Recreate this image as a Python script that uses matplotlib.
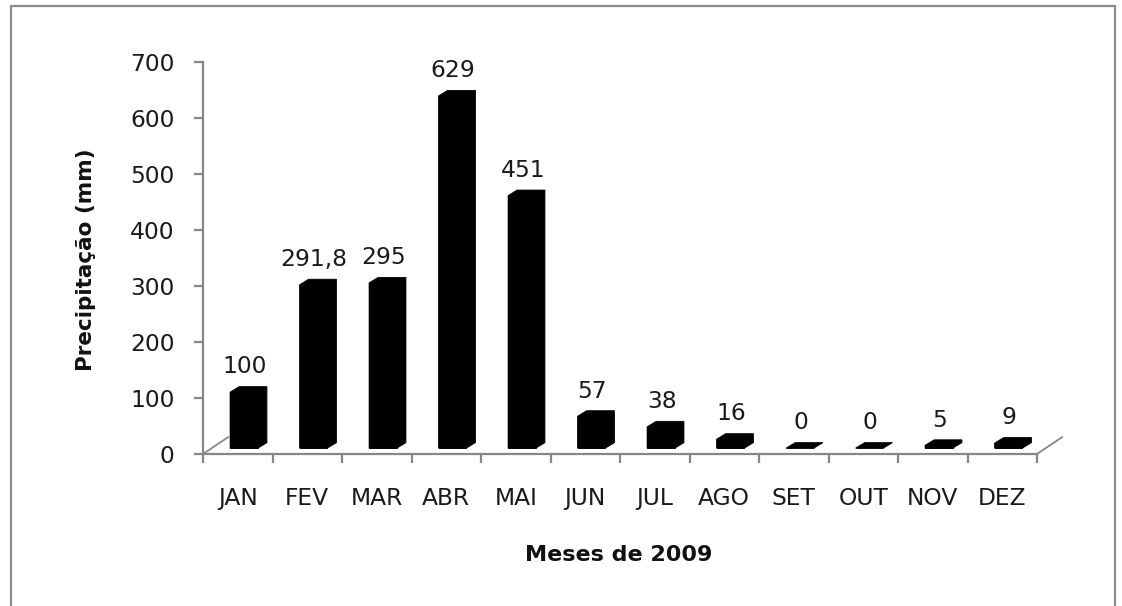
import matplotlib
matplotlib.use("Agg")
import matplotlib.pyplot as plt
from matplotlib.patches import Rectangle

months = ["JAN", "FEV", "MAR", "ABR", "MAI", "JUN", "JUL", "AGO", "SET", "OUT", "NOV", "DEZ"]
precip = [100, 291.8, 295, 629, 451, 57, 38, 16, 0, 0, 5, 9]
labels = ["100", "291,8", "295", "629", "451", "57", "38", "16", "0", "0", "5", "9"]
yticks = [0, 100, 200, 300, 400, 500, 600, 700]

plt.rcParams['font.family'] = ['DejaVu Sans']
GRAY = "#878787"
TXT = "#1a1a1a"
FS = 16.8

W, H = 1122, 606
fig = plt.figure(figsize=(W / 100, H / 100), dpi=100)
ax = fig.add_axes([203 / W, 1 - 454 / H, (1037 - 203) / W, (454 - 62) / H])
ax.set_xlim(-0.5, len(months) - 0.5)
ax.set_ylim(0, 700)

# pseudo-3D column geometry (in data units)
x_off, width = -0.11, 0.40
base = 10.5
ddx, ddy = 0.13, 9.8

for i, v in enumerate(precip):
    x0 = i + x_off
    x1 = x0 + width
    top = base + v
    # front face
    ax.bar(x0, v, width=width, bottom=base, align='edge', color='black',
           edgecolor='black', linewidth=0.6, zorder=3)
    # full box silhouette (front + top + side) to avoid seams
    ax.fill([x0, x0, x0 + ddx, x1 + ddx, x1 + ddx, x1],
            [base, top, top + ddy, top + ddy, base + ddy, base],
            color='black', edgecolor='black', linewidth=0.6, zorder=4)
    ax.annotate(labels[i], xy=(i + 0.1, top + ddy), xytext=(0, 9.5),
                textcoords='offset points', ha='center', va='baseline',
                fontsize=FS, color=TXT)

# floor depth lines
n = len(months)
ax.plot([-0.5, -0.14], [0, 30], color=GRAY, lw=1.3, clip_on=False, zorder=2)
ax.plot([n - 0.5, n - 0.14], [0, 30], color=GRAY, lw=1.3, clip_on=False, zorder=2)

for s in ['top', 'right']:
    ax.spines[s].set_visible(False)
for s in ['left', 'bottom']:
    ax.spines[s].set_color(GRAY)
    ax.spines[s].set_linewidth(1.6)

ax.set_yticks(yticks)
ax.set_yticklabels([str(t) for t in yticks])
ax.tick_params(axis='y', length=6.5, width=1.6, color=GRAY, pad=14,
               labelsize=FS, labelcolor=TXT)

ax.set_xticks([i - 0.5 for i in range(n + 1)])
ax.set_xticklabels([])
ax.set_xticks(list(range(n)), minor=True)
ax.set_xticklabels(months, minor=True)
ax.tick_params(axis='x', which='major', length=6.5, width=1.6, color=GRAY)
ax.tick_params(axis='x', which='minor', length=0, pad=24,
               labelsize=FS, labelcolor=TXT)

fig.text(619 / W, 1 - 555 / H, "Meses de 2009", ha='center', va='center',
         fontsize=16, fontweight='bold', color='#111111')
fig.text(86 / W, 1 - 260 / H, "Precipitação (mm)", ha='center', va='center',
         rotation=90, fontsize=15.5, fontweight='bold', color='#111111')

# outer chart border
fig.patches.append(Rectangle((11 / W, -0.02), (1115 - 11) / W, 1.02 - 6 / H,
                             transform=fig.transFigure, fill=False,
                             edgecolor='#8c8c8c', linewidth=1.6))

fig.savefig("out.png", dpi=100)
